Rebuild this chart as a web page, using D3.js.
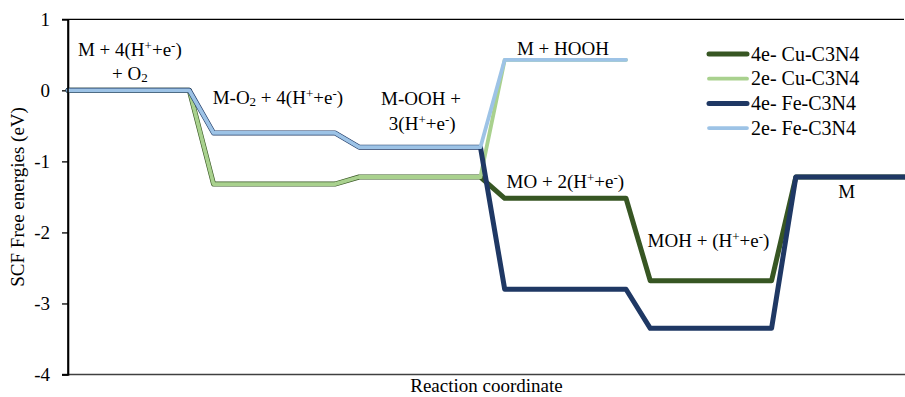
<!DOCTYPE html>
<html>
<head>
<meta charset="utf-8">
<script src="https://cdn.jsdelivr.net/npm/d3@7"></script>
<style>
  body { margin: 0; background: #fff; }
  text { font-family: "Liberation Serif", "Times New Roman", serif; fill: #000; }
</style>
</head>
<body>
<div id="chart"></div>
<script>
// energy levels per reaction step
const seriesNames = ["4e- Cu-C3N4", "2e- Cu-C3N4", "4e- Fe-C3N4", "2e- Fe-C3N4"];
const cu4e = [0, -1.32, -1.22, -1.52, -2.68, -1.22];
const cu2e = [0, -1.32, -1.22, 0.43];
const fe4e = [0, -0.6, -0.8, -2.8, -3.35, -1.22];
const fe2e = [0, -0.6, -0.8, 0.43];
const yTicks = [1, 0, -1, -2, -3, -4];
const colors = ["#375623", "#a9d18e", "#1f3864", "#9dc3e6"];
const widths = [5, 3.8, 5, 3.8];

// state labels: [parts, x (coordinate units), y (eV, baseline)]
const labels = [
  [[["M + 4(H"], ["+", "sup"], ["+e"], ["-", "sup"], [")"]], 0.51, 0.48],
  [[["+ O"], ["2", "sub"]], 0.51, 0.145],
  [[["M-O"], ["2", "sub"], [" + 4(H"], ["+", "sup"], ["+e"], ["-", "sup"], [")"]], 1.73, -0.19],
  [[["M-OOH +"]], 2.91, -0.21],
  [[["3(H"], ["+", "sup"], ["+e"], ["-", "sup"], [")"]], 2.92, -0.56],
  [[["M + HOOH"]], 4.08, 0.5],
  [[["MO + 2(H"], ["+", "sup"], ["+e"], ["-", "sup"], [")"]], 4.1, -1.375],
  [[["MOH + (H"], ["+", "sup"], ["+e"], ["-", "sup"], [")"]], 5.28, -2.2],
  [[["M"]], 6.42, -1.52]
];

const width = 905, height = 397;
const margin = { left: 68, right: 0, top: 19.3, bottom: 22.5 };
const xMax = 6.9;
const fs = "19px";

const svg = d3.select("#chart").append("svg")
  .attr("width", width)
  .attr("height", height);

const x = d3.scaleLinear().domain([0, xMax]).range([margin.left, width - margin.right]);
const y = d3.scaleLinear().domain([-4, 1]).range([height - margin.bottom, margin.top]);

// step -> plateau points
function toPoints(levels) {
  const pts = [];
  levels.forEach((v, i) => {
    pts.push([i * 1.2, v]);
    pts.push([Math.min(i * 1.2 + 1, xMax), v]);
  });
  return pts;
}

const allSeries = [cu4e, cu2e, fe4e, fe2e];

// top border
svg.append("line")
  .attr("x1", margin.left - 6).attr("x2", width - 1)
  .attr("y1", y(1)).attr("y2", y(1))
  .attr("stroke", "#000").attr("stroke-width", 1.3);

// bottom axis line
svg.append("line")
  .attr("x1", margin.left - 6).attr("x2", width)
  .attr("y1", y(-4)).attr("y2", y(-4))
  .attr("stroke", "#404040").attr("stroke-width", 1.6);

// y axis
const yAxis = svg.append("g")
  .attr("transform", `translate(${margin.left},0)`)
  .call(d3.axisLeft(y).tickValues(yTicks).tickSize(6).tickPadding(12).tickFormat(d3.format("d")));
yAxis.select(".domain").attr("stroke", "#000").attr("stroke-width", 1.6);
yAxis.selectAll(".tick line").attr("stroke", "#000").attr("stroke-width", 1.3);
yAxis.selectAll(".tick text")
  .style("font-family", "'Liberation Serif', 'Times New Roman', serif")
  .style("font-size", fs)
  .attr("fill", "#000")
  .text(d => d < 0 ? "-" + Math.abs(d) : d);

// lines
const line = d3.line().x(d => x(d[0])).y(d => y(d[1]));
svg.append("g").selectAll("path")
  .data(allSeries)
  .enter().append("path")
  .attr("d", d => line(toPoints(d)))
  .attr("fill", "none")
  .attr("stroke", (d, i) => colors[i])
  .attr("stroke-width", (d, i) => widths[i])
  .attr("stroke-linejoin", "round")
  .attr("stroke-linecap", "round");

// redraw y axis line on top of series start
svg.append("line")
  .attr("x1", margin.left).attr("x2", margin.left)
  .attr("y1", y(1)).attr("y2", y(-4))
  .attr("stroke", "#000").attr("stroke-width", 1.6);

// state labels
labels.forEach(([parts, lx, ly]) => {
  const t = svg.append("text")
    .attr("x", x(lx))
    .attr("y", y(ly))
    .attr("text-anchor", "middle")
    .style("font-size", fs);
  parts.forEach(([s, kind]) => {
    const ts = t.append("tspan").text(s);
    if (kind === "sup") {
      ts.style("font-size", "13px").attr("baseline-shift", "45%");
    } else if (kind === "sub") {
      ts.style("font-size", "13px").attr("baseline-shift", "-15%");
    }
  });
});

// axis titles
svg.append("text")
  .attr("x", (margin.left + width) / 2)
  .attr("y", 392)
  .attr("text-anchor", "middle")
  .style("font-size", fs)
  .text("Reaction coordinate");

svg.append("text")
  .attr("transform", `translate(24,${(y(1) + y(-4)) / 2}) rotate(-90)`)
  .attr("text-anchor", "middle")
  .style("font-size", fs)
  .text("SCF Free energies (eV)");

// legend
const legend = svg.append("g").attr("transform", "translate(707,54)");
const item = legend.selectAll("g")
  .data(seriesNames)
  .enter().append("g")
  .attr("transform", (d, i) => `translate(0,${i * 24.7})`);
item.append("line")
  .attr("x1", 2).attr("x2", 40)
  .attr("stroke", (d, i) => colors[i])
  .attr("stroke-width", (d, i) => widths[i])
  .attr("stroke-linecap", "round");
item.append("text")
  .attr("x", 44)
  .attr("y", 6.5)
  .style("font-size", "20px")
  .text(d => d);
</script>
</body>
</html>
